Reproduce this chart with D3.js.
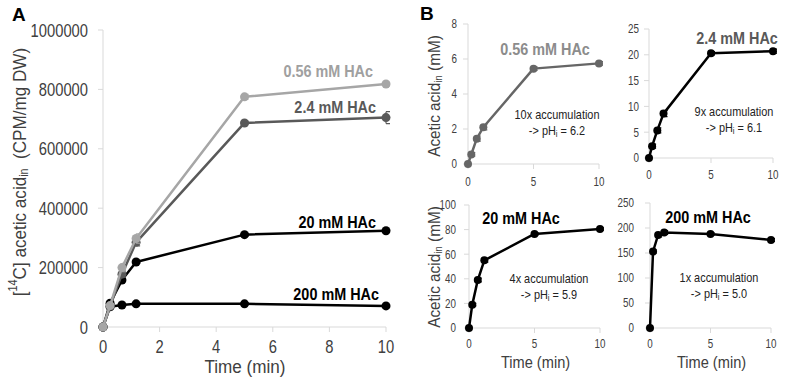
<!DOCTYPE html>
<html>
<head>
<meta charset="utf-8">
<script src="https://cdn.jsdelivr.net/npm/d3@7"></script>
<style>
  html, body { margin: 0; padding: 0; background: #fff; }
  svg { display: block; }
</style>
</head>
<body>
<svg id="chart" width="800" height="383"></svg>
<script>
// ---------------- DATA ----------------
const times = [0, 0.25, 0.67, 1.17, 5, 10];

// Panel A: [14C] acetic acid_in (CPM/mg DW)
const cpm056 = [0, 72000, 200000, 298000, 775000, 818000];
const cpm24  = [0, 70000, 178000, 285000, 687000, 705000];
const cpm20  = [0, 80000, 158000, 219000, 311000, 324000];
const cpm200 = [0, 68000, 74000, 78000, 78000, 71000];
const err056 = [0, 6000, 14000, 16000, 8000, 6000];
const err24  = [0, 5000, 10000, 12000, 6000, 20000];
const err20  = [0, 4000, 5000, 5000, 4000, 4000];
const err200 = [0, 3000, 3000, 3000, 3000, 3000];
const labelsA = ["0.56 mM HAc", "2.4 mM HAc", "20 mM HAc", "200 mM HAc"];
const yTicksA = [0, 200000, 400000, 600000, 800000, 1000000];
const xTicksA = [0, 2, 4, 6, 8, 10];

// Panel B: Acetic acid_in (mM)
const mM056 = [0, 0.55, 1.45, 2.1, 5.45, 5.75];
const mM24  = [0, 2.3, 5.35, 8.6, 20.3, 20.7];
const mM20  = [0, 19, 39, 55, 76.5, 80.5];
const mM200 = [0, 153, 186, 191, 188, 176];
const errB056 = [0, 0.1, 0.15, 0.15, 0.1, 0.1];
const errB24  = [0, 0.4, 0.5, 0.6, 0.3, 0.4];
const errB20  = [0, 1, 1.5, 1.5, 1, 1];
const errB200 = [0, 3, 4, 4, 3, 3];
const yMaxB = [8, 25, 100, 250];
const yStepB = [2, 5, 20, 50];
const xTicksB = [0, 5, 10];
const accumB = ["10x accumulation", "9x accumulation", "4x accumulation", "1x accumulation"];
const pHiB = ["6.2", "6.1", "5.9", "5.0"];

// ---------------- STYLE ----------------
const FONT = "'Liberation Sans',Arial,sans-serif";
const AXIS = "#d9d9d9";
const TXT = "#404040";

const svg = d3.select("#chart");

// condensed text helper (horizontal scaling emulates a narrow face)
function T(g, x, y, str, o) {
  const t = g.append("text")
    .attr("transform", `translate(${x},${y})${o.rot ? " rotate(-90)" : ""} scale(${o.sx || 0.85},1)`)
    .attr("text-anchor", o.anchor || "middle")
    .attr("dominant-baseline", "central")
    .attr("font-family", FONT)
    .attr("font-size", o.size)
    .attr("fill", o.fill || TXT);
  if (o.bold) t.attr("font-weight", "bold");
  if (str !== null) t.text(str);
  return t;
}

function drawAxes(g, x, y, xt, yt, o) {
  const [x0, x1] = x.range();
  const [y0, y1] = y.range();
  g.append("line").attr("x1", x0).attr("x2", x0).attr("y1", y0).attr("y2", y1)
    .attr("stroke", AXIS).attr("stroke-width", 1);
  g.append("line").attr("x1", x0).attr("x2", x1).attr("y1", y0).attr("y2", y0)
    .attr("stroke", AXIS).attr("stroke-width", 1);
  xt.forEach(t => {
    g.append("line").attr("x1", x(t)).attr("x2", x(t)).attr("y1", y0).attr("y2", y0 + 5)
      .attr("stroke", AXIS);
    T(g, x(t), y0 + o.xLabDy, String(t), { size: o.tickSize, sx: o.sx });
  });
  yt.forEach(t => {
    g.append("line").attr("x1", x0 - 5).attr("x2", x0).attr("y1", y(t)).attr("y2", y(t))
      .attr("stroke", AXIS);
    T(g, x0 - o.yLabGap, y(t), String(t), { size: o.tickSize, sx: o.sx, anchor: "end" });
  });
}

function drawSeries(g, x, y, vals, errs, color, r, lw) {
  const pts = times.map((t, i) => ({ t, v: vals[i], e: errs[i] }));
  g.append("path").datum(pts)
    .attr("fill", "none").attr("stroke", color).attr("stroke-width", lw)
    .attr("stroke-linejoin", "round")
    .attr("d", d3.line().x(d => x(d.t)).y(d => y(d.v)));
  pts.filter(d => d.e > 0).forEach(d => {
    g.append("path")
      .attr("d", `M${x(d.t)},${y(d.v - d.e)}V${y(d.v + d.e)}M${x(d.t)},${y(d.v + d.e)}h4M${x(d.t)},${y(d.v - d.e)}h4`)
      .attr("stroke", color).attr("stroke-width", 1.2).attr("fill", "none");
  });
  g.selectAll(null).data(pts).enter().append("circle")
    .attr("cx", d => x(d.t)).attr("cy", d => y(d.v)).attr("r", r)
    .attr("fill", color);
}

// ---------------- PANEL A ----------------
{
  const g = svg.append("g");
  const x = d3.scaleLinear().domain([0, 10]).range([103, 386]);
  const y = d3.scaleLinear().domain([0, 1000000]).range([327, 30]);
  drawAxes(g, x, y, xTicksA, yTicksA, { xLabDy: 19, yLabGap: 15, tickSize: 18, sx: 0.82 });

  drawSeries(g, x, y, cpm200, err200, "#000000", 4.5, 2.5);
  drawSeries(g, x, y, cpm20, err20, "#000000", 4.5, 2.5);
  drawSeries(g, x, y, cpm24, err24, "#595959", 4.5, 2.5);
  drawSeries(g, x, y, cpm056, err056, "#a6a6a6", 4.5, 2.5);

  const labA = [
    { x: 373, y: 71, c: "#a0a0a0" },
    { x: 376, y: 107, c: "#595959" },
    { x: 376, y: 222, c: "#000000" },
    { x: 379, y: 294, c: "#000000" }
  ];
  labA.forEach((l, i) => T(g, l.x, l.y, labelsA[i],
    { size: 16, bold: true, sx: 0.9, anchor: "end", fill: l.c }));

  T(g, 245, 367, "Time (min)", { size: 19, sx: 0.9 });

  const yl = T(g, 20, 172, null, { size: 19, sx: 0.9, rot: true });
  yl.append("tspan").text("[");
  yl.append("tspan").attr("font-size", 12).attr("dy", -7).text("14");
  yl.append("tspan").attr("dy", 7).text("C] acetic acid");
  yl.append("tspan").attr("font-size", 12).attr("dy", 4).text("in");
  yl.append("tspan").attr("dy", -4).text("\u00a0 (CPM/mg\u00a0DW)");

  g.append("text").attr("x", 12).attr("y", 14).attr("dominant-baseline", "central")
    .attr("font-family", FONT).attr("font-weight", "bold")
    .attr("font-size", 19).attr("fill", "#000").text("A");
}

// ---------------- PANEL B ----------------
{
  const frames = [
    { xr: [468, 599], yr: [164, 24], xLabDy: 18, gap: 11 },
    { xr: [649, 773], yr: [158, 29], xLabDy: 17, gap: 10 },
    { xr: [469, 600], yr: [328, 205], xLabDy: 16, gap: 13 },
    { xr: [650, 771], yr: [328, 203], xLabDy: 16, gap: 16 }
  ];
  const series = [mM056, mM24, mM20, mM200];
  const errsB = [errB056, errB24, errB20, errB200];
  const lineCol = ["#666666", "#000000", "#000000", "#000000"];
  const labCol = ["#8c8c8c", "#595959", "#000000", "#000000"];
  const labPos = [[545, 49], [737, 38], [521, 218], [708, 217]];
  const annPos = [[557, 115], [734, 112], [549, 279], [719, 278]];

  frames.forEach((f, i) => {
    const g = svg.append("g");
    const x = d3.scaleLinear().domain([0, 10]).range(f.xr);
    const y = d3.scaleLinear().domain([0, yMaxB[i]]).range(f.yr);
    const yt = d3.range(0, yMaxB[i] + yStepB[i] / 2, yStepB[i]);
    drawAxes(g, x, y, xTicksB, yt, { xLabDy: f.xLabDy, yLabGap: f.gap, tickSize: 12, sx: 0.82 });
    drawSeries(g, x, y, series[i], errsB[i], lineCol[i], 4, 2.5);

    T(g, labPos[i][0], labPos[i][1], labelsA[i],
      { size: 16, bold: true, sx: 0.9, fill: labCol[i] });

    T(g, annPos[i][0], annPos[i][1], accumB[i], { size: 13, sx: 0.84, fill: "#222" });
    const t2 = T(g, annPos[i][0], annPos[i][1] + 16, null, { size: 13, sx: 0.84, fill: "#222" });
    t2.append("tspan").text("-> pH");
    t2.append("tspan").attr("font-size", 9).attr("dy", 3).text("i");
    t2.append("tspan").attr("dy", -3).text(" = " + pHiB[i]);

    if (i === 0 || i === 2) {
      const cy = i === 0 ? 96 : 267;
      const yl = T(g, 434, cy, null, { size: 17, sx: 0.9, rot: true });
      yl.append("tspan").text("Acetic acid");
      yl.append("tspan").attr("font-size", 11).attr("dy", 4).text("in");
      yl.append("tspan").attr("dy", -4).text("\u00a0(mM)");
    }
    if (i >= 2) {
      T(g, (f.xr[0] + f.xr[1]) / 2 + 1, 362, "Time (min)", { size: 17, sx: 0.86 });
    }
  });

  svg.append("text").attr("x", 420).attr("y", 13).attr("dominant-baseline", "central")
    .attr("font-family", FONT).attr("font-weight", "bold")
    .attr("font-size", 19).attr("fill", "#000").text("B");
}
</script>
</body>
</html>
